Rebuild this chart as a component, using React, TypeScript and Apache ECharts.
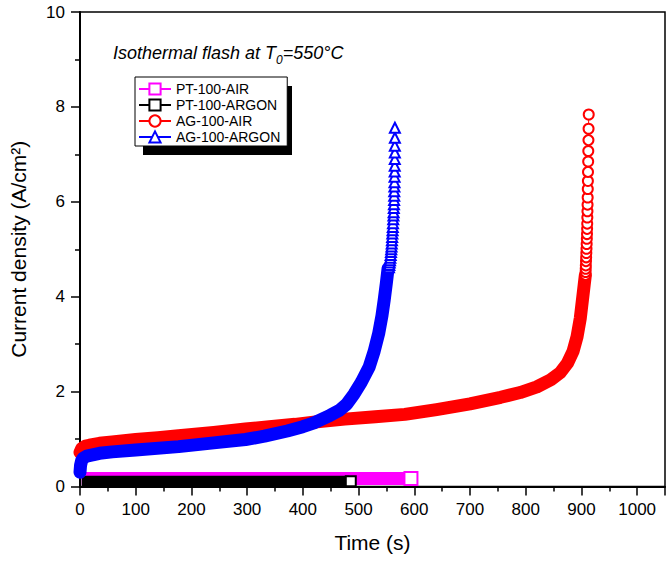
import React, { useEffect, useRef } from "react";
import * as echarts from "echarts";

const FONT = "'Liberation Sans', Arial, sans-serif";

const seriesNames = ["PT-100-AIR", "PT-100-ARGON", "AG-100-AIR", "AG-100-ARGON"];
const seriesColors = ["#FF00FF", "#000000", "#FF0000", "#0000FF"];

// PT-100-AIR (flat, no flash)
const ptAirBand: [number, number][] = [[3, 0.17], [150, 0.17], [300, 0.17], [450, 0.17], [588, 0.17]];
const ptAirEnd: [number, number][] = [[594, 0.17]];

// PT-100-ARGON (flat, no flash)
const ptArgonBand: [number, number][] = [[3, 0.11], [150, 0.11], [300, 0.11], [483, 0.11]];
const ptArgonEnd: [number, number][] = [[486, 0.11]];

// AG-100-AIR
const agAirBand: [number, number][] = [
  [0, 0.72], [3, 0.8], [10, 0.85], [17, 0.87], [35, 0.91], [58, 0.94], [100, 0.99],
  [140, 1.03], [177, 1.07], [240, 1.14], [297, 1.21], [340, 1.26], [386, 1.31],
  [430, 1.37], [475, 1.42], [530, 1.47], [583, 1.52], [640, 1.62], [700, 1.74],
  [755, 1.88], [790, 1.98], [820, 2.1], [845, 2.25], [862, 2.4], [875, 2.6],
  [885, 2.85], [892, 3.15], [898, 3.55], [902, 3.95], [905, 4.25], [907, 4.45],
];
const agAirTip: [number, number][] = [
  [907.3, 4.46], [907.5, 4.52], [907.7, 4.59], [907.9, 4.66], [908.2, 4.75],
  [908.5, 4.83], [908.8, 4.92], [909.1, 5.01], [909.4, 5.11], [909.7, 5.22],
  [910.0, 5.32], [910.2, 5.43], [910.4, 5.54], [910.6, 5.67], [910.8, 5.8],
  [911.0, 5.94], [911.2, 6.09], [911.4, 6.27], [911.6, 6.44], [911.8, 6.63],
  [912.1, 6.85], [912.3, 7.07], [912.6, 7.3], [912.8, 7.54], [913.1, 7.84],
];

// AG-100-ARGON
const agArgonBand: [number, number][] = [
  [0, 0.3], [1, 0.45], [3, 0.55], [6, 0.6], [12, 0.64], [35, 0.7], [58, 0.73],
  [100, 0.77], [177, 0.84], [240, 0.92], [297, 0.99], [331, 1.06], [372, 1.17],
  [400, 1.26], [420, 1.34], [449, 1.5], [465, 1.6], [479, 1.74], [492, 1.95],
  [505, 2.2], [519, 2.52], [528, 2.85], [536, 3.22], [542, 3.6], [546, 3.93],
  [550, 4.3], [553, 4.6],
];
const agArgonTip: [number, number][] = [
  [554.5, 4.62], [555.2, 4.67], [555.8, 4.72], [556.4, 4.77], [557.0, 4.82],
  [557.6, 4.88], [558.1, 4.94], [558.6, 5.0], [559.1, 5.06], [559.5, 5.12],
  [559.9, 5.19], [560.3, 5.26], [560.6, 5.33], [561.0, 5.4], [561.4, 5.47],
  [561.8, 5.55], [562.2, 5.63], [562.6, 5.71], [562.9, 5.78], [563.2, 5.87],
  [563.5, 5.95], [563.8, 6.04], [564.0, 6.13], [564.1, 6.22], [564.3, 6.32],
  [564.5, 6.41], [564.6, 6.53], [564.8, 6.64], [564.9, 6.76], [565.0, 6.9],
  [565.1, 7.04], [565.1, 7.18], [565.2, 7.35], [565.2, 7.56],
];

const band = (id: string, data: [number, number][], color: string, width: number, cap: string) => ({
  type: "line",
  name: id,
  data,
  symbol: "none",
  silent: true,
  lineStyle: { color, width, cap, join: "round" },
  emphasis: { disabled: true },
});

const marks = (name: string, data: [number, number][], color: string, symbol: string, size: number) => ({
  type: "line",
  name,
  data,
  symbol,
  symbolSize: size,
  showSymbol: true,
  showAllSymbol: true,
  lineStyle: { color, width: 1 },
  itemStyle: { color, borderColor: color, borderWidth: 1.5 },
  emphasis: { disabled: true },
});

export default function App() {
  const ref = useRef<HTMLDivElement>(null);
  useEffect(() => {
    if (!ref.current) return;
    const chart = echarts.init(ref.current, undefined, { renderer: "svg" });
    chart.setOption({
      animation: false,
      backgroundColor: "#fff",
      grid: { left: 76, right: 4, top: 12, bottom: 74.5, show: true, borderColor: "#000", borderWidth: 1.5, backgroundColor: "transparent" },
      xAxis: {
        type: "value",
        min: 0,
        max: 1050,
        interval: 100,
        name: "Time (s)",
        nameLocation: "middle",
        nameGap: 45,
        nameTextStyle: { fontFamily: FONT, fontSize: 21, color: "#000" },
        axisLine: { show: true, lineStyle: { color: "#000", width: 2 } },
        axisTick: { show: true, inside: false, length: 9, lineStyle: { color: "#000", width: 1.5 } },
        minorTick: { show: true, splitNumber: 2, length: 5, lineStyle: { color: "#000", width: 1.5 } },
        axisLabel: {
          fontFamily: FONT, fontSize: 17, color: "#000", margin: 14,
          formatter: (v: number) => (v > 1000 ? "" : String(v)),
        },
        splitLine: { show: false },
      },
      yAxis: {
        type: "value",
        min: 0,
        max: 10,
        interval: 2,
        name: "Current density (A/cm²)",
        nameLocation: "middle",
        nameGap: 51,
        nameTextStyle: { fontFamily: FONT, fontSize: 21, color: "#000" },
        axisLine: { show: true, lineStyle: { color: "#000", width: 2 } },
        axisTick: { show: true, inside: false, length: 9, lineStyle: { color: "#000", width: 1.5 } },
        minorTick: { show: true, splitNumber: 2, length: 5, lineStyle: { color: "#000", width: 1.5 } },
        axisLabel: { fontFamily: FONT, fontSize: 17, color: "#000", margin: 15 },
        splitLine: { show: false },
      },
      legend: {
        data: seriesNames,
        orient: "vertical",
        left: 135,
        top: 77,
        padding: [5, 7, 2, 3],
        itemGap: 2,
        itemWidth: 32,
        itemHeight: 14,
        backgroundColor: "#fff",
        borderColor: "#000",
        borderWidth: 1,
        z: 10,
        selectedMode: false,
        textStyle: { fontFamily: FONT, fontSize: 14, color: "#000" },
      },
      graphic: [
        { type: "rect", z: 5, shape: { x: 143, y: 86, width: 149, height: 69 }, style: { fill: "#000" } },
        {
          type: "text",
          left: 113,
          top: 44,
          z: 5,
          style: {
            text: "{a|Isothermal flash at T}{s|0}{a|=550°C}",
            rich: {
              a: { fontFamily: FONT, fontSize: 18, fontStyle: "italic", lineHeight: 26, fill: "#000" },
              s: { fontFamily: FONT, fontSize: 12, fontStyle: "italic", verticalAlign: "bottom", fill: "#000" },
            },
          },
        },
      ],
      series: [
        band("b0", ptAirBand, seriesColors[0], 13, "butt"),
        marks(seriesNames[0], ptAirEnd, seriesColors[0], "emptyRect", 13),
        band("b1", ptArgonBand, seriesColors[1], 11, "butt"),
        marks(seriesNames[1], ptArgonEnd, seriesColors[1], "emptyRect", 10),
        band("b2", agAirBand, seriesColors[2], 13, "round"),
        marks(seriesNames[2], agAirTip, seriesColors[2], "emptyCircle", 10),
        band("b3", agArgonBand, seriesColors[3], 13, "round"),
        marks(seriesNames[3], agArgonTip, seriesColors[3], "emptyTriangle", 10),
      ],
    });
    return () => chart.dispose();
  }, []);
  return <div ref={ref} style={{ position: "fixed", left: 0, top: 0, width: 669, height: 561 }} />;
}
